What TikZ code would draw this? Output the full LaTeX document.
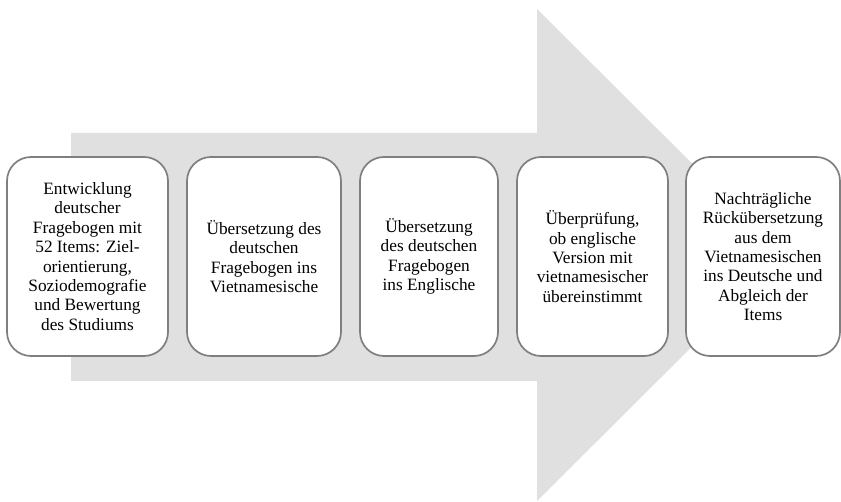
\documentclass[tikz,border=0pt]{standalone}
\usepackage{fontspec}
\setmainfont{Liberation Serif}
\begin{document}
\begin{tikzpicture}[x=1pt,y=-1pt,
  stepbox/.style={draw=boxgray, line width=1.7pt, fill=white, rounded corners=24pt,
    minimum height=199pt, inner sep=0pt, align=center,
    font=\fontsize{17.3}{19.4}\selectfont}]
\definecolor{arrowgray}{HTML}{E0E0E0}
\definecolor{boxgray}{HTML}{7F7F7F}
\useasboundingbox (0,0) rectangle (841,502);
\fill[arrowgray] (71,133) -- (537,133) -- (537,9) -- (784,255) -- (537,501) -- (537,381) -- (71,381) -- cycle;
\node[stepbox, minimum width=161pt] (s1) at (87.5,256.5)
  {Entwicklung\\deutscher\\Fragebogen mit\\52 Items: Ziel-\\orientierung,\\Soziodemografie\\und Bewertung\\des Studiums};
\node[stepbox, minimum width=154pt] (s2) at (264,256.5)
  {Übersetzung des\\deutschen\\Fragebogen ins\\Vietnamesische};
\node[stepbox, minimum width=138pt] (s3) at (429,256.5)
  {Übersetzung\\des deutschen\\Fragebogen\\ins Englische};
\node[stepbox, minimum width=151pt] (s4) at (592.5,256.5)
  {Überprüfung,\\ob englische\\Version mit\\vietnamesischer\\übereinstimmt};
\node[stepbox, minimum width=154pt] (s5) at (763,256.5)
  {Nachträgliche\\Rückübersetzung\\aus dem\\Vietnamesischen\\ins Deutsche und\\Abgleich der\\Items};
\end{tikzpicture}
\end{document}
